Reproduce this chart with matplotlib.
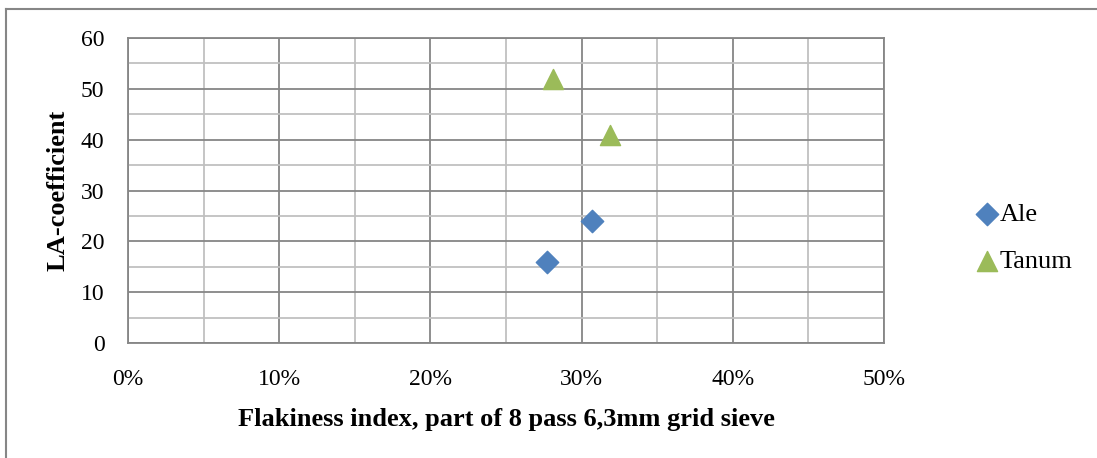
import numpy as np
import matplotlib.pyplot as plt
from matplotlib.lines import Line2D
from matplotlib.ticker import MultipleLocator, PercentFormatter

plt.rcParams['font.family'] = ['Liberation Serif', 'DejaVu Serif']

ale_x = [0.277, 0.307]
ale_y = [16, 24]
tanum_x = [0.281, 0.319]
tanum_y = [52, 41]

fig = plt.figure(figsize=(10.97, 4.58), dpi=100)
ax = fig.add_axes([0.1167, 0.2511, 0.6891, 0.6659])

ax.scatter(ale_x, ale_y, marker='D', s=130, color='#4F81BD', label='Ale', zorder=3)
ax.scatter(tanum_x, tanum_y, marker='^', s=210, color='#9BBB59', label='Tanum', zorder=3)

ax.set_xlim(0, 0.5)
ax.set_ylim(0, 60)
ax.xaxis.set_major_locator(MultipleLocator(0.1))
ax.xaxis.set_minor_locator(MultipleLocator(0.05))
ax.yaxis.set_major_locator(MultipleLocator(10))
ax.yaxis.set_minor_locator(MultipleLocator(5))
ax.xaxis.set_major_formatter(PercentFormatter(1.0, decimals=0))
ax.grid(which='major', color='#868686', lw=1.3)
ax.grid(which='minor', color='#c0c0c0', lw=1.3)
ax.set_axisbelow(True)
for s in ax.spines.values():
    s.set_color('#868686')
    s.set_linewidth(1.3)
ax.tick_params(which='both', length=0, labelsize=17)
ax.tick_params(axis='x', pad=19)
ax.tick_params(axis='y', pad=17)

ax.set_xlabel('Flakiness index, part of 8 pass 6,3mm grid sieve', fontsize=19,
              fontweight='bold', labelpad=13)
ax.set_ylabel('LA-coefficient', fontsize=19, fontweight='bold', labelpad=8)

ax.legend(loc='center left', bbox_to_anchor=(1.101, 0.345), frameon=False,
          fontsize=19, handletextpad=0.0, labelspacing=0.9, borderpad=0,
          handlelength=1.0)

fig.add_artist(Line2D([0.0055, 1.0], [0.980, 0.980], color='#868686', lw=1.5))
fig.add_artist(Line2D([0.0055, 0.0055], [0.0, 0.980], color='#868686', lw=1.5))

fig.savefig('out.png', dpi=100)
